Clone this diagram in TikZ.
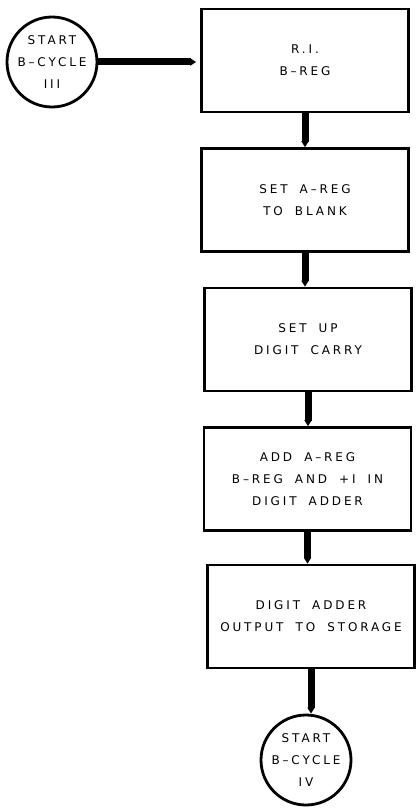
\documentclass[tikz,border=0pt]{standalone}
\usepackage{fontspec}
\newfontfamily\flowfont[LetterSpace=24, WordSpace=1.8]{DejaVu Sans}
\usetikzlibrary{arrows.meta}

\begin{document}
\begin{tikzpicture}[
    x=1pt, y=-1pt,
    font=\flowfont\fontsize{12}{22}\selectfont,
    opbox/.style={draw, line width=2.6pt, minimum width=207pt, minimum height=103pt,
                  align=center, inner sep=0pt},
    term/.style={draw, circle, line width=2.8pt, minimum size=90pt, align=center,
                 inner sep=0pt},
    flow/.style={line width=7pt, -{Triangle[length=6pt, width=7pt]}}
]
\useasboundingbox (0,0) rectangle (415,808);

\node[term]  (start3) at (52, 62)    {START\\B–CYCLE\\III};
\node[opbox] (ribreg) at (305, 60.5) {R.I.\\B–REG};
\node[opbox] (clra)   at (305, 200)  {SET A–REG\\TO BLANK};
\node[opbox] (carry)  at (308, 339.5) {SET UP\\DIGIT CARRY};
\node[opbox] (add)    at (307.5, 479) {ADD A–REG\\B–REG AND +I IN\\DIGIT ADDER};
\node[opbox] (store)  at (311, 616.5) {DIGIT ADDER\\OUTPUT TO STORAGE};
\node[term]  (start4) at (306, 760)  {START\\B–CYCLE\\IV};

% start --> R.I. B-REG
\draw[flow, shorten >=4pt] (start3.east) -- (start3.east -| ribreg.west);

% down the column
\draw[flow] (ribreg.south) -- (ribreg.south |- clra.north);
\draw[flow] (clra.south)   -- (clra.south |- carry.north);
\draw[flow] (carry.south)  -- (carry.south |- add.north);
\draw[flow] (add.south)    -- (add.south |- store.north);
\draw[flow] (store.south)  -- (store.south |- start4.north);

\end{tikzpicture}
\end{document}
